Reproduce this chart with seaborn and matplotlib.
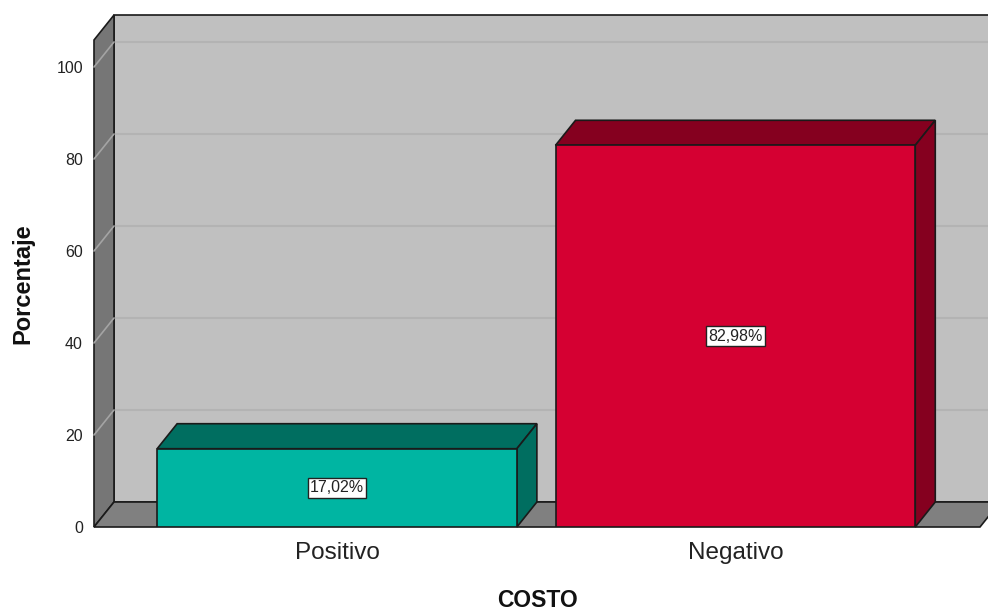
import matplotlib
matplotlib.use("Agg")
import matplotlib.pyplot as plt
from matplotlib.patches import Polygon
import seaborn as sns
import pandas as pd

# Data
categories = ["Positivo", "Negativo"]
percentages = [17.02, 82.98]
value_labels = ["17,02%", "82,98%"]
y_ticks = [0, 20, 40, 60, 80, 100]

front_colors = ["#00B5A2", "#D50032"]
shade_colors = ["#006E60", "#85001F"]

sns.set_theme(style="white")
plt.rcParams["font.family"] = ["Liberation Sans", "DejaVu Sans"]

W, H, DPI = 988, 612, 100
fig = plt.figure(figsize=(W / DPI, H / DPI), dpi=DPI)
ax_left, ax_right, ax_bottom, ax_top = 94, 980, 527, 40   # pixel frame of the front plane
ax = fig.add_axes([ax_left / W, (H - ax_bottom) / H,
                   (ax_right - ax_left) / W, (ax_bottom - ax_top) / H])

xl, xr = -0.61, 1.614
ymax = 105.87
ax.set_xlim(xl, xr)
ax.set_ylim(0, ymax)

# depth of the 3D box, expressed in data units
dx = 20 / ((ax_right - ax_left) / (xr - xl))
dy = 25 / ((ax_bottom - ax_top) / ymax)

edge = "#1a1a1a"

def poly(pts, fc, lw=1.2, z=1):
    ax.add_patch(Polygon(pts, closed=True, facecolor=fc, edgecolor=edge,
                         linewidth=lw, clip_on=False, zorder=z))

# back wall, left wall, floor
poly([(xl + dx, dy), (xr + dx, dy), (xr + dx, ymax + dy), (xl + dx, ymax + dy)], "#C0C0C0", z=0.5)
poly([(xl, 0), (xl + dx, dy), (xl + dx, ymax + dy), (xl, ymax)], "#767676", z=0.6)
poly([(xl, 0), (xr, 0), (xr + dx, dy), (xl + dx, dy)], "#808080", z=0.7)

# gridlines on the back and left walls
for v in y_ticks[1:]:
    ax.plot([xl + dx, xr + dx], [v + dy, v + dy], color="#B3B3B3", lw=1.5,
            clip_on=False, zorder=0.55)
    ax.plot([xl, xl + dx], [v, v + dy], color="#A4A4A4", lw=1.2,
            clip_on=False, zorder=0.65)

# front faces of the bars
df = pd.DataFrame({"COSTO": categories, "Porcentaje": percentages})
bar_w = 0.903
sns.barplot(data=df, x="COSTO", y="Porcentaje", hue="COSTO", palette=front_colors,
            width=bar_w, dodge=False, legend=False, edgecolor=edge, linewidth=1.2,
            saturation=1, ax=ax, zorder=3)
ax.set_xlim(xl, xr)
ax.set_ylim(0, ymax)

# top and side faces of the bars, plus value labels
for i, (v, shade, lab) in enumerate(zip(percentages, shade_colors, value_labels)):
    x0, x1 = i - bar_w / 2, i + bar_w / 2
    poly([(x0, v), (x1, v), (x1 + dx, v + dy), (x0 + dx, v + dy)], shade, z=2.5)
    poly([(x1, 0), (x1 + dx, dy), (x1 + dx, v + dy), (x1, v)], shade, z=2.5)
    ax.text(i, v / 2, lab, ha="center", va="center", fontsize=11.5, color="#222222",
            zorder=5, bbox=dict(boxstyle="square,pad=0.15", facecolor="white",
                                edgecolor="#222222", linewidth=1.0))

ax.patch.set_visible(False)
for s in ax.spines.values():
    s.set_visible(False)

ax.set_yticks(y_ticks)
ax.set_yticklabels([str(t) for t in y_ticks], fontsize=11.5, color="#222222")
ax.tick_params(axis="y", length=0, pad=8)
ax.tick_params(axis="x", length=0, pad=11, labelsize=17.5, colors="#222222")
ax.set_xlabel("COSTO", fontsize=16.5, fontweight="bold", labelpad=18, color="#111111")
ax.set_ylabel("Porcentaje", fontsize=17, fontweight="bold", labelpad=16, color="#111111")

fig.savefig("out.png", dpi=DPI, facecolor="white")
